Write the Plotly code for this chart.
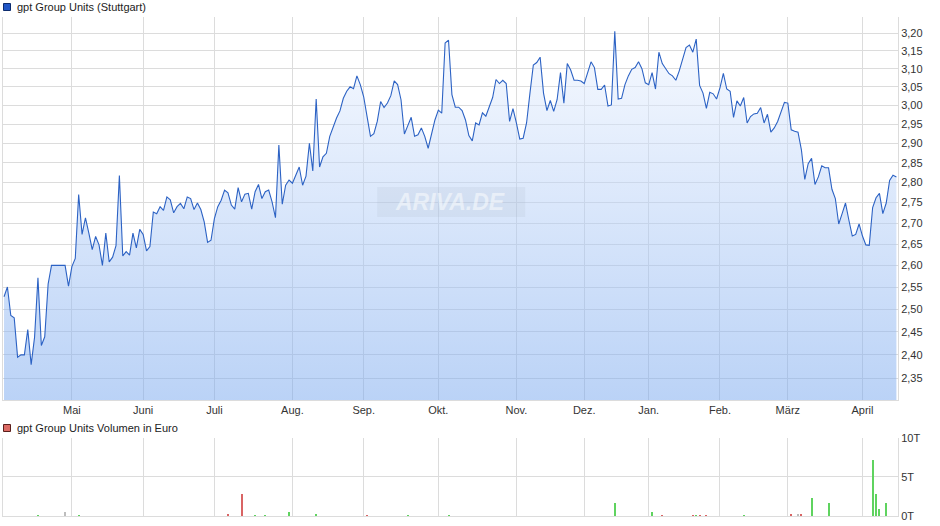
import math
import plotly.graph_objects as go

# ---------------- data ----------------
PRICE = [
    2.528, 2.55, 2.486, 2.481, 2.395, 2.40, 2.40, 2.455, 2.379, 2.438,
    2.571, 2.420, 2.439, 2.557, 2.60, 2.60, 2.60, 2.60, 2.60, 2.552,
    2.597, 2.616, 2.77, 2.673, 2.713, 2.676, 2.637, 2.668, 2.648, 2.60,
    2.676, 2.608, 2.619, 2.646, 2.8175, 2.622, 2.632, 2.624, 2.676, 2.641,
    2.685, 2.673, 2.634, 2.644, 2.727, 2.723, 2.740, 2.731, 2.764, 2.757,
    2.725, 2.740, 2.748, 2.735, 2.764, 2.760, 2.733, 2.749, 2.733, 2.703,
    2.654, 2.659, 2.711, 2.740, 2.756, 2.781, 2.774, 2.744, 2.734, 2.787,
    2.752, 2.771, 2.773, 2.734, 2.777, 2.795, 2.760, 2.777, 2.781, 2.752,
    2.713, 2.895, 2.746, 2.793, 2.806, 2.798, 2.821, 2.839,
    2.793, 2.816, 2.90, 2.829, 3.017, 2.839, 2.865, 2.874, 2.918, 2.944,
    2.966, 2.985, 3.019, 3.038, 3.05, 3.045, 3.080, 3.056, 3.023, 2.97,
    2.918, 2.925, 2.957, 3.01, 2.994, 3.006, 3.026, 3.066, 3.056, 3.015,
    2.924, 2.946, 2.968, 2.918, 2.922, 2.940, 2.918, 2.887, 2.920, 2.961,
    2.987, 2.979, 3.172, 3.180, 3.029, 2.995, 2.995, 2.986, 2.961, 2.920,
    2.906, 2.953, 2.948, 2.980, 2.971, 2.996, 3.021, 3.070, 3.059, 3.068,
    3.059, 2.957, 2.991, 2.953, 2.911, 2.913, 2.953, 3.033, 3.110, 3.117,
    3.132, 3.033, 2.986, 3.013, 2.984, 3.015, 3.089, 3.006, 3.114, 3.096,
    3.068, 3.068, 3.066, 3.059, 3.089, 3.119, 3.103, 3.043,
    3.043,
    3.055, 2.998, 3.001, 3.205, 3.017, 3.019, 3.056, 3.080, 3.098, 3.103,
    3.119, 3.10, 3.061, 3.056, 3.089, 3.044, 3.146, 3.114, 3.10, 3.086,
    3.080, 3.068, 3.094, 3.127, 3.159, 3.166, 3.146, 3.183, 3.054, 3.033,
    2.992, 3.035, 3.031, 3.017, 3.047, 3.087, 3.044, 3.038, 2.968, 3.012,
    2.998, 3.021, 2.953, 2.970, 2.977, 2.979, 2.994, 2.953, 2.976, 2.929,
    2.940, 2.957, 2.984, 3.008, 3.006, 2.935, 2.931, 2.929, 2.883, 2.8075,
    2.8475, 2.861, 2.795, 2.814, 2.842, 2.837, 2.837, 2.783, 2.760, 2.698,
    2.723, 2.749, 2.707, 2.669, 2.673, 2.698, 2.669, 2.648, 2.647, 2.738,
    2.762, 2.773, 2.723, 2.749, 2.805, 2.818, 2.814,
]

MONTH_LABELS = ["Mai", "Juni", "Juli", "Aug.", "Sep.", "Okt.", "Nov.",
                "Dez.", "Jan.", "Feb.", "März", "April"]
MONTH_IDX = [20, 41, 62, 85, 106, 128, 151, 171, 190, 211, 231, 253]

PRICE_TICKS = [2.35, 2.40, 2.45, 2.50, 2.55, 2.60, 2.65, 2.70, 2.75,
               2.80, 2.85, 2.90, 2.95, 3.00, 3.05, 3.10, 3.15, 3.20]
PRICE_RANGE = [2.305, 3.248]

VOL_IDX = [10, 18, 22, 66, 70, 74, 77, 84, 92, 107, 119, 131, 180, 191, 194,
           203, 204, 205, 207, 218, 232, 234, 235, 238, 243, 256, 257, 258, 260]
VOL_EUR = [170, 550, 80, 300, 2800, 50, 50, 550, 300, 100, 80, 170, 1680, 500,
           170, 80, 50, 80, 50, 40, 300, 300, 300, 2310, 1760, 7230, 2820, 880, 1760]
VOL_DIR = ["up", "flat", "up", "down", "down", "up", "up", "up", "up", "down",
           "up", "up", "up", "up", "down", "down", "up", "down", "down", "up",
           "down", "flat", "down", "up", "up", "up", "up", "up", "up"]
VOL_TICKS = [0, 5000, 10000]
VOL_TICKTEXT = ["0T", "5T", "10T"]

# ---------------- figure ----------------
W, H = 940, 526
PL, PR = 3, 897.7
FONT = "Liberation Sans, Arial, sans-serif"
GRID = "#dcdcdc"
DIR_COLOR = {"up": "#5fd35f", "down": "#d96464", "flat": "#bdbdbd"}

x = list(range(len(PRICE)))
fig = go.Figure()

# baseline for the area fill (bottom of the price axis)
fig.add_trace(go.Scatter(x=x, y=[PRICE_RANGE[0]] * len(PRICE), mode="lines",
                         line=dict(width=0, color="rgba(0,0,0,0)"),
                         hoverinfo="skip", showlegend=False,
                         xaxis="x", yaxis="y"))
fig.add_trace(go.Scatter(
    x=x, y=PRICE, mode="lines", fill="tonexty",
    line=dict(color="#2c62c4", width=1.1),
    fillgradient=dict(type="vertical",
                      colorscale=[[0, "rgba(118,166,238,0.5)"],
                                  [1, "rgba(238,244,255,0.5)"]]),
    showlegend=False, xaxis="x", yaxis="y"))

fig.add_trace(go.Bar(
    x=VOL_IDX, y=VOL_EUR, width=0.6,
    marker=dict(color=[DIR_COLOR[d] for d in VOL_DIR], line=dict(width=0)),
    showlegend=False, xaxis="x2", yaxis="y2"))

def py(p):
    return 1 - p / H

def px(p):
    return (p - PL) / (PR - PL)

xrange_ = [-0.3, 263.47]
fig.update_layout(
    template="none",
    width=W, height=H, autosize=False,
    margin=dict(l=PL, r=W - PR, t=0, b=0, pad=0, autoexpand=False),
    paper_bgcolor="white", plot_bgcolor="white",
    font=dict(family=FONT, size=11, color="#333"),
    showlegend=False,
    bargap=0,
    xaxis=dict(domain=[0, 1], range=xrange_, tickmode="array",
               tickvals=MONTH_IDX, ticktext=MONTH_LABELS, showgrid=True,
               gridcolor=GRID, gridwidth=1, ticks="", zeroline=False,
               showline=True, linecolor=GRID, anchor="y", automargin=False,
               tickfont=dict(size=11, color="#333")),
    yaxis=dict(domain=[py(400), py(16.5)], type="log",
               range=[math.log10(PRICE_RANGE[0]), math.log10(PRICE_RANGE[1])],
               side="right", tickmode="array", tickvals=PRICE_TICKS,
               ticktext=[f"{v:.2f}".replace(".", ",") for v in PRICE_TICKS],
               showgrid=True, gridcolor=GRID, ticks="", zeroline=False,
               showline=True, mirror=True, linecolor=GRID, anchor="x",
               automargin=False, tickfont=dict(size=11, color="#333")),
    xaxis2=dict(domain=[0, 1], range=xrange_, tickmode="array",
                tickvals=MONTH_IDX, showticklabels=False, showgrid=True,
                gridcolor=GRID, ticks="", zeroline=False, showline=True,
                linecolor=GRID, anchor="y2", automargin=False),
    yaxis2=dict(domain=[py(516), py(437.7)], range=[0, 10000],
                side="right", tickmode="array", tickvals=VOL_TICKS,
                ticktext=VOL_TICKTEXT, showgrid=True, gridcolor=GRID,
                ticks="", zeroline=False, showline=True, mirror=True,
                linecolor=GRID, anchor="x2", automargin=False,
                tickfont=dict(size=11, color="#333")),
)

# legend-like titles
fig.add_shape(type="rect", xref="paper", yref="paper",
              x0=px(3.5), x1=px(10.5), y0=py(10.5), y1=py(3.5),
              fillcolor="#2156c6", line=dict(color="#0d2c6e", width=1))
fig.add_annotation(text="gpt Group Units (Stuttgart)", xref="paper", yref="paper",
                   x=px(15), y=py(7), xanchor="left", yanchor="middle",
                   showarrow=False, font=dict(size=11, color="#222", family=FONT))
fig.add_shape(type="rect", xref="paper", yref="paper",
              x0=px(3.5), x1=px(10.5), y0=py(431.5), y1=py(424.5),
              fillcolor="#dc6a64", line=dict(color="#5a1f1c", width=1))
fig.add_annotation(text="gpt Group Units Volumen in Euro", xref="paper", yref="paper",
                   x=px(15), y=py(428), xanchor="left", yanchor="middle",
                   showarrow=False, font=dict(size=11, color="#222", family=FONT))

# watermark
fig.add_shape(type="rect", xref="paper", yref="paper", layer="above",
              x0=px(377), x1=px(525), y0=py(217), y1=py(187),
              fillcolor="rgba(170,182,200,0.16)", line=dict(width=0))
fig.add_annotation(text="<b><i>ARIVA.DE</i></b>", xref="paper", yref="paper",
                   x=px(450), y=py(202), xanchor="center", yanchor="middle",
                   showarrow=False,
                   font=dict(size=23, color="rgba(255,255,255,0.5)", family=FONT))

fig.write_html("out.html",
               config={"displayModeBar": False},
               post_script="document.body.style.margin='0';"
                           "document.body.style.padding='0';")
